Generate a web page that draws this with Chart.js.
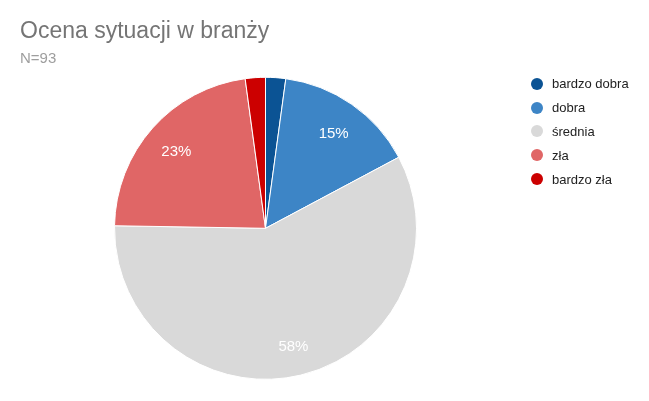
<!DOCTYPE html>
<html>
<head>
<meta charset="utf-8">
<script src="https://cdn.jsdelivr.net/npm/chart.js@4"></script>
<style>
    body { margin: 0; background: #fff; font-family: "Liberation Sans", Arial, sans-serif; }
    #wrap { position: relative; width: 649px; height: 401px; }
    .legend-list { position: absolute; left: 531px; top: 72px; margin: 0; padding: 0; list-style: none; }
    .legend-list li { height: 23.8px; display: flex; align-items: center; font-size: 13px; color: #222; }
    .legend-list .dot { width: 12px; height: 12px; border-radius: 50%; margin-right: 9px; display: inline-block; }
</style>
</head>
<body>
<div id="wrap">
    <canvas id="pieChart"></canvas>
    <ul class="legend-list" id="pieLegend"></ul>
</div>
<script>
    var categories = ['bardzo dobra', 'dobra', 'średnia', 'zła', 'bardzo zła'];
    var counts = [2, 14, 54, 21, 2];
    var colors = ['#0b5394', '#3d85c6', '#d9d9d9', '#e06666', '#cc0000'];

    var total = counts.reduce(function (a, b) { return a + b; }, 0);

    // percent labels inside the slices
    var sliceLabels = {
        id: 'sliceLabels',
        afterDatasetsDraw: function (chart) {
            var ctx = chart.ctx;
            var meta = chart.getDatasetMeta(0);
            ctx.save();
            ctx.font = '15px "Liberation Sans"';
            ctx.fillStyle = '#ffffff';
            ctx.textAlign = 'center';
            ctx.textBaseline = 'middle';
            meta.data.forEach(function (arc, i) {
                var pct = Math.round(counts[i] / total * 100);
                if (pct < 5) return;
                var p = arc.getProps(['x', 'y', 'startAngle', 'endAngle', 'outerRadius'], true);
                var mid = (p.startAngle + p.endAngle) / 2;
                var r = p.outerRadius * 0.79;
                ctx.fillText(pct + '%', p.x + Math.cos(mid) * r, p.y + Math.sin(mid) * r + 3);
            });
            ctx.restore();
        }
    };

    new Chart(document.getElementById('pieChart'), {
        type: 'pie',
        data: {
            labels: categories,
            datasets: [{
                data: counts,
                backgroundColor: colors,
                borderColor: '#ffffff',
                borderWidth: 1
            }]
        },
        options: {
            responsive: true,
            maintainAspectRatio: false,
            animation: false,
            radius: 151,
            layout: {
                padding: { left: 20, right: 138, top: 0, bottom: 20 }
            },
            plugins: {
                legend: { display: false },
                tooltip: { enabled: false },
                title: {
                    display: true,
                    text: 'Ocena sytuacji w branży',
                    align: 'start',
                    color: '#757575',
                    font: { family: '"Liberation Sans"', size: 23, weight: 'normal' },
                    padding: { top: 18, bottom: 2 }
                },
                subtitle: {
                    display: true,
                    text: 'N=93',
                    align: 'start',
                    color: '#9e9e9e',
                    font: { family: '"Liberation Sans"', size: 15, weight: 'normal' },
                    padding: { top: 2, bottom: 8 }
                }
            }
        },
        plugins: [sliceLabels]
    });

    // html legend, like the rest of the dashboard
    var legendBox = document.getElementById('pieLegend');
    categories.forEach(function (category, i) {
        var item = document.createElement('li');
        item.innerHTML = '<span class="dot" style="background-color: ' + colors[i] + ';"></span>' +
            '<span class="title">' + category + '</span>';
        legendBox.appendChild(item);
    });
</script>
</body>
</html>
